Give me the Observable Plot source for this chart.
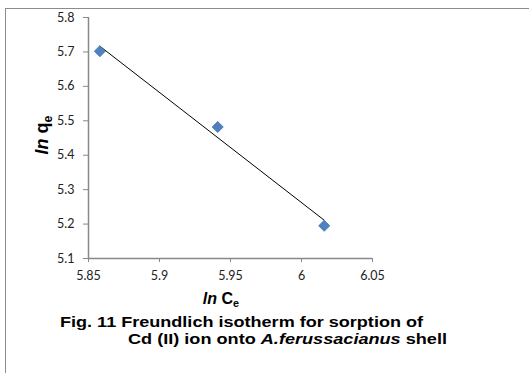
<!DOCTYPE html>
<html>
<head>
<meta charset="utf-8">
<script src="https://cdn.jsdelivr.net/npm/d3@7"></script>
<script src="https://cdn.jsdelivr.net/npm/@observablehq/plot@0.6"></script>
<style>
  html, body { margin: 0; padding: 0; background: #fff; }
  #wrap { position: relative; width: 529px; height: 373px; overflow: hidden; }
  #wrap svg { position: absolute; left: 0; top: 0; }
  .frame { position: absolute; left: 5px; top: 8px; width: 600px; height: 400px; border-top: 1px solid #8c8c8c; border-left: 1px solid #8c8c8c; }
  .lbl { position: absolute; white-space: nowrap; font-family: "Liberation Sans", Arial, sans-serif; font-weight: bold; color: #000; }
  sub { font-size: 68%; vertical-align: -0.3em; line-height: 0; }
</style>
</head>
<body>
<div id="wrap">
  <div class="frame"></div>
</div>
<script>
const lnCe = [5.858, 5.941, 6.016];
const lnQe = [5.702, 5.482, 5.195];
const xTicks = [5.85, 5.9, 5.95, 6, 6.05];
const xTickLabels = ["5.85", "5.9", "5.95", "6", "6.05"];
const yTicks = [5.1, 5.2, 5.3, 5.4, 5.5, 5.6, 5.7, 5.8];
const yTickLabels = ["5.1", "5.2", "5.3", "5.4", "5.5", "5.6", "5.7", "5.8"];

const data = lnCe.map((x, i) => ({x, y: lnQe[i]}));

const chart = Plot.plot({
  width: 529,
  height: 373,
  marginLeft: 88,
  marginRight: 157,
  marginTop: 17,
  marginBottom: 115,
  style: {background: "transparent", fontFamily: "Lato, 'Open Sans', sans-serif", fontSize: "12.5px", color: "#222"},
  x: {domain: [5.85, 6.05], label: null},
  y: {domain: [5.1, 5.8], label: null},
  marks: [
    Plot.axisX({ticks: xTicks, tickFormat: (d) => xTickLabels[xTicks.findIndex(t => Math.abs(t - d) < 1e-9)], tickSize: 4, tickPadding: 9, stroke: "#888", label: null}),
    Plot.axisY({ticks: yTicks, tickFormat: (d) => yTickLabels[yTicks.findIndex(t => Math.abs(t - d) < 1e-9)], tickSize: 5, tickPadding: 9, stroke: "#888", label: null}),
    Plot.ruleX([5.85], {stroke: "#888", strokeWidth: 1.5}),
    Plot.ruleY([5.1], {stroke: "#888", strokeWidth: 1.5}),
    Plot.linearRegressionY(data, {x: "x", y: "y", ci: 0, stroke: "#000", strokeWidth: 1}),
    Plot.dot(data, {x: "x", y: "y", symbol: "diamond2", r: 5, fill: "#4f81bd", stroke: "#4374b3", strokeWidth: 0.8})
  ]
});
const wrap = document.getElementById("wrap");
wrap.appendChild(chart);

function addLabel(html, css) {
  const d = document.createElement("div");
  d.className = "lbl";
  d.innerHTML = html;
  Object.assign(d.style, css);
  wrap.appendChild(d);
  return d;
}
function fitWidth(d, target) {
  const w = d.getBoundingClientRect().width;
  d.style.transformOrigin = "0 0";
  d.style.transform = "scaleX(" + (target / w) + ")";
}
addLabel('<i>ln</i> C<sub>e</sub>', {left: "221px", top: "299px", fontSize: "16px", lineHeight: "16px", transform: "translate(-50%,-50%)"});
addLabel('<i>ln</i> q<sub>e</sub>', {left: "42px", top: "135px", fontSize: "18px", lineHeight: "18px", transform: "translate(-50%,-50%) rotate(-90deg)"});
const c1 = addLabel('Fig. 11 Freundlich isotherm for sorption of', {left: "60px", top: "314px", fontSize: "15px", lineHeight: "15px"});
const c2 = addLabel('Cd (II) ion onto <i>A.ferussacianus</i> shell', {left: "128px", top: "331px", fontSize: "15px", lineHeight: "15px"});
fitWidth(c1, 363);
fitWidth(c2, 319);
</script>
</body>
</html>
